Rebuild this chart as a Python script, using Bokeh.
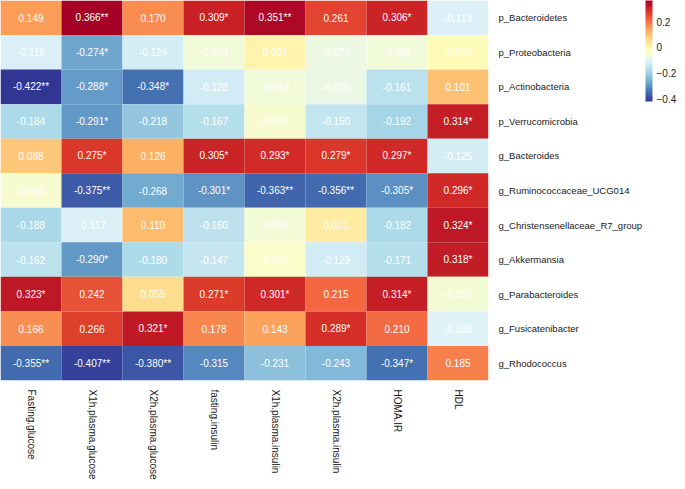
import math
import numpy as np
from bokeh.plotting import figure
from bokeh.models import (ColumnDataSource, LinearColorMapper, ColorBar, FixedTicker,
                          CustomJSTickFormatter)
from bokeh.transform import transform
from bokeh.embed import file_html
from bokeh.resources import INLINE

# ---------------- data ----------------
columns = ["Fasting.glucose", "X1h.plasma.glucose", "X2h.plasma.glucose", "fasting.insulin",
           "X1h.plasma.insulin", "X2h.plasma.insulin", "HOMA.IR", "HDL"]
rows = ["p_Bacteroidetes", "p_Proteobacteria", "p_Actinobacteria", "p_Verrucomicrobia",
        "g_Bacteroides", "g_Ruminococcaceae_UCG014", "g_Christensenellaceae_R7_group",
        "g_Akkermansia", "g_Parabacteroides", "g_Fusicatenibacter", "g_Rhodococcus"]

r_Bacteroidetes = [0.149, 0.366, 0.170, 0.309, 0.351, 0.261, 0.306, -0.113]
r_Proteobacteria = [-0.116, -0.274, -0.124, -0.064, 0.001, -0.077, -0.063, -0.016]
r_Actinobacteria = [-0.422, -0.288, -0.348, -0.128, -0.063, -0.080, -0.161, 0.101]
r_Verrucomicrobia = [-0.184, -0.291, -0.218, -0.167, -0.050, -0.150, -0.192, 0.314]
r_g_Bacteroides = [0.088, 0.275, 0.126, 0.305, 0.293, 0.279, 0.297, -0.125]
r_Ruminococcaceae = [-0.050, -0.375, -0.268, -0.301, -0.363, -0.356, -0.305, 0.296]
r_Christensenellaceae = [-0.188, -0.117, 0.110, -0.160, -0.059, 0.021, -0.182, 0.324]
r_Akkermansia = [-0.162, -0.290, -0.180, -0.147, -0.041, -0.129, -0.171, 0.318]
r_Parabacteroides = [0.323, 0.242, 0.055, 0.271, 0.301, 0.215, 0.314, -0.057]
r_Fusicatenibacter = [0.166, 0.266, 0.321, 0.178, 0.143, 0.289, 0.210, -0.108]
r_Rhodococcus = [-0.355, -0.407, -0.380, -0.315, -0.231, -0.243, -0.347, 0.185]

s_Bacteroidetes = ["", "**", "", "*", "**", "", "*", ""]
s_Proteobacteria = ["", "*", "", "", "", "", "", ""]
s_Actinobacteria = ["**", "*", "*", "", "", "", "", ""]
s_Verrucomicrobia = ["", "*", "", "", "", "", "", "*"]
s_g_Bacteroides = ["", "*", "", "*", "*", "*", "*", ""]
s_Ruminococcaceae = ["", "**", "", "*", "**", "**", "*", "*"]
s_Christensenellaceae = ["", "", "", "", "", "", "", "*"]
s_Akkermansia = ["", "*", "", "", "", "", "", "*"]
s_Parabacteroides = ["*", "", "", "*", "*", "", "*", ""]
s_Fusicatenibacter = ["", "", "*", "", "", "*", "", ""]
s_Rhodococcus = ["**", "**", "**", "", "", "", "*", ""]

values = [r_Bacteroidetes, r_Proteobacteria, r_Actinobacteria, r_Verrucomicrobia,
          r_g_Bacteroides, r_Ruminococcaceae, r_Christensenellaceae, r_Akkermansia,
          r_Parabacteroides, r_Fusicatenibacter, r_Rhodococcus]
stars = [s_Bacteroidetes, s_Proteobacteria, s_Actinobacteria, s_Verrucomicrobia,
         s_g_Bacteroides, s_Ruminococcaceae, s_Christensenellaceae, s_Akkermansia,
         s_Parabacteroides, s_Fusicatenibacter, s_Rhodococcus]

colorbar_ticks = [-0.4, -0.2, 0.0, 0.2]

# ---------------- palette (RdYlBu 11, blue -> red, interpolated) ----------------
base = ["#313695", "#4575b4", "#74add1", "#abd9e9", "#e0f3f8", "#ffffbf",
        "#fee090", "#fdae61", "#f46d43", "#d73027", "#a50026"]
rgb = np.array([[int(h[i:i + 2], 16) for i in (1, 3, 5)] for h in base], dtype=float)
xs = np.linspace(0, 1, len(base))
xn = np.linspace(0, 1, 256)
palette = ["#%02x%02x%02x" % tuple(int(round(np.interp(t, xs, rgb[:, k]))) for k in range(3))
           for t in xn]

flat_vals = [v for r in values for v in r]
mapper = LinearColorMapper(palette=palette, low=min(flat_vals), high=max(flat_vals))

xc, yc, vv, lab = [], [], [], []
for ri, rname in enumerate(rows):
    for ci, cname in enumerate(columns):
        v = values[ri][ci]
        xc.append(cname)
        yc.append(rname)
        vv.append(v)
        lab.append("%.3f%s" % (v, stars[ri][ci]))
src = ColumnDataSource(dict(x=xc, y=yc, v=vv, label=lab))

p = figure(x_range=columns, y_range=list(reversed(rows)),
           frame_width=488, frame_height=380,
           output_backend="svg", toolbar_location=None,
           x_axis_location="below", y_axis_location="right",
           min_border_left=0, min_border_top=0, min_border_bottom=0, min_border_right=0)

p.rect(x="x", y="y", width=1, height=1, source=src,
       fill_color=transform("v", mapper), line_color=None)
p.text(x="x", y="y", text="label", source=src, text_align="center", text_baseline="middle",
       text_color="white", text_font_size="10px", text_font={"value": "Liberation Sans"})

p.outline_line_color = None
p.grid.grid_line_color = None
for ax in (p.xaxis[0], p.yaxis[0]):
    ax.axis_line_color = None
    ax.major_tick_line_color = None
    ax.minor_tick_line_color = None
    ax.major_label_text_font = "Liberation Sans"
    ax.major_label_text_color = "#1a1a1a"
    ax.major_label_standoff = 3
p.yaxis[0].major_label_text_font_size = "9.5px"
p.yaxis[0].major_label_standoff = 4
p.xaxis[0].major_label_text_font_size = "10px"
p.xaxis[0].major_label_orientation = -math.pi / 2

cb = ColorBar(color_mapper=mapper, ticker=FixedTicker(ticks=colorbar_ticks),
              formatter=CustomJSTickFormatter(code="""
                  if (Math.abs(tick) < 1e-9) return '0';
                  return tick.toFixed(1).replace('-', '\u2212');
              """),
              width=7, height=101, padding=0, margin=9, label_standoff=4,
              major_tick_line_color=None, bar_line_color=None,
              border_line_color=None, background_fill_alpha=0,
              major_label_text_font_size="10px", major_label_text_color="#1a1a1a",
              major_label_text_font="Liberation Sans", location="top_left")
p.add_layout(cb, "right")

open("out.html", "w").write(file_html(p, INLINE))
